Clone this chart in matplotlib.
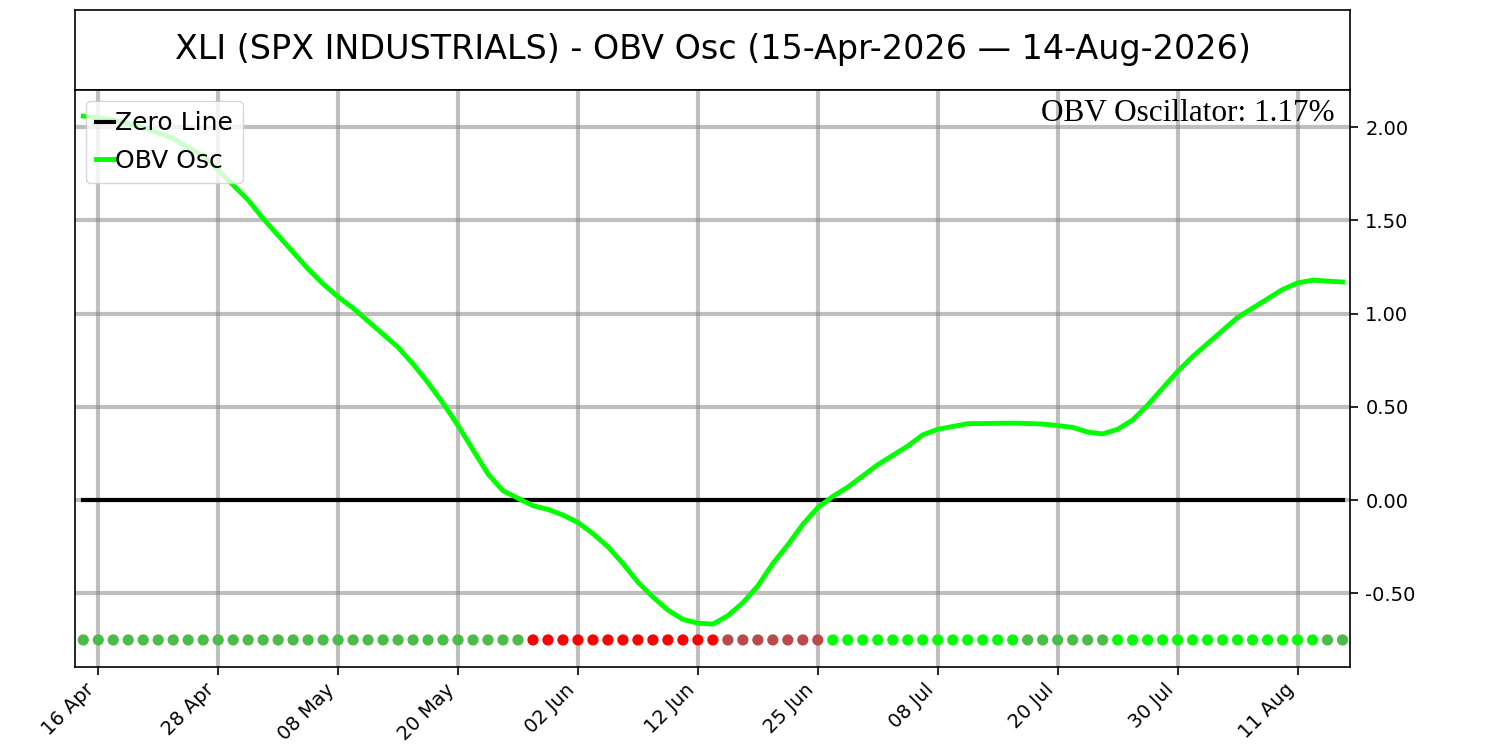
import numpy as np
import matplotlib
matplotlib.use("Agg")
import matplotlib.pyplot as plt

# OBV oscillator, one value per trading day (15-Apr-2026 .. 14-Aug-2026)
obv_osc = [
    2.06, 2.05, 2.04, 2.02, 2.00, 1.97, 1.94, 1.89, 1.85, 1.77,
    1.69, 1.61, 1.51, 1.42, 1.33, 1.24, 1.16, 1.09, 1.03, 0.96,
    0.89, 0.82, 0.73, 0.63, 0.52, 0.40, 0.27, 0.14, 0.05, 0.01,
    -0.03, -0.05, -0.08, -0.12, -0.18, -0.25, -0.34, -0.44, -0.52, -0.59,
    -0.64, -0.66, -0.665, -0.62, -0.55, -0.46, -0.34, -0.24, -0.13, -0.04,
    0.02, 0.07, 0.13, 0.19, 0.24, 0.29, 0.35, 0.38, 0.395, 0.41,
    0.411, 0.412, 0.413, 0.411, 0.408, 0.40, 0.39, 0.365, 0.355, 0.38,
    0.43, 0.51, 0.60, 0.69, 0.77, 0.84, 0.91, 0.98, 1.03, 1.08,
    1.13, 1.165, 1.18, 1.175, 1.17,
]

tick_pos = [1, 9, 17, 25, 33, 41, 49, 57, 65, 73, 81]
tick_labels = ['16 Apr', '28 Apr', '08 May', '20 May', '02 Jun', '12 Jun',
               '25 Jun', '08 Jul', '20 Jul', '30 Jul', '11 Aug']

title = 'XLI (SPX INDUSTRIALS) - OBV Osc (15-Apr-2026 \u2014 14-Aug-2026)'
last_value = obv_osc[-1]

y = np.array(obv_osc)
x = np.arange(len(y))

# dot colours: sign of the oscillator and whether it is rising
diff = np.diff(y, prepend=np.inf)
colors = []
for v, d in zip(y, diff):
    if v >= 0:
        colors.append('#00ff00' if d > 0 else '#4cbb47')
    else:
        colors.append('#b94a4a' if d > 0 else '#ff0000')

fig = plt.figure(figsize=(15, 7.5), dpi=100)

# title box
tax = fig.add_axes([0.05, 0.88, 0.85, 0.1067])
tax.set_xticks([])
tax.set_yticks([])
for s in tax.spines.values():
    s.set_linewidth(1.2)
tax.text(0.5, 0.5, title, ha='center', va='center', fontsize=24,
         transform=tax.transAxes)

ax = fig.add_axes([0.05, 0.1107, 0.85, 0.7693])
ax.plot(x, np.zeros_like(y), color='black', lw=3, label='Zero Line', zorder=3)
ax.plot(x, y, color='#00ff00', lw=3.5, label='OBV Osc', zorder=4)
ax.scatter(x, np.full_like(y, -0.75), c=colors, s=50, zorder=5)

ax.set_xlim(-0.55, 84.5)
ax.set_ylim(-0.895, 2.2)
ax.set_xticks(tick_pos)
ax.set_xticklabels(tick_labels, rotation=45, ha='right')
yt = [-0.5, 0, 0.5, 1.0, 1.5, 2.0]
ax.set_yticks(yt)
ax.set_yticklabels([f'{t:.2f}' for t in yt])
ax.yaxis.tick_right()
ax.tick_params(axis='both', labelsize=14, length=6, width=1.2)
ax.tick_params(axis='y', pad=5)
ax.grid(True, color='gray', alpha=0.5, lw=3)
for s in ax.spines.values():
    s.set_linewidth(1.2)

ax.text(0.988, 0.985, f'OBV Oscillator: {last_value:.2f}%', ha='right', va='top',
        fontsize=22.5, family='Liberation Serif', transform=ax.transAxes)

ax.legend(loc='upper left', fontsize=18, handlelength=0.7, handletextpad=0.05,
          borderaxespad=0.45, borderpad=0.4, labelspacing=0.55)

fig.savefig('out.png')
